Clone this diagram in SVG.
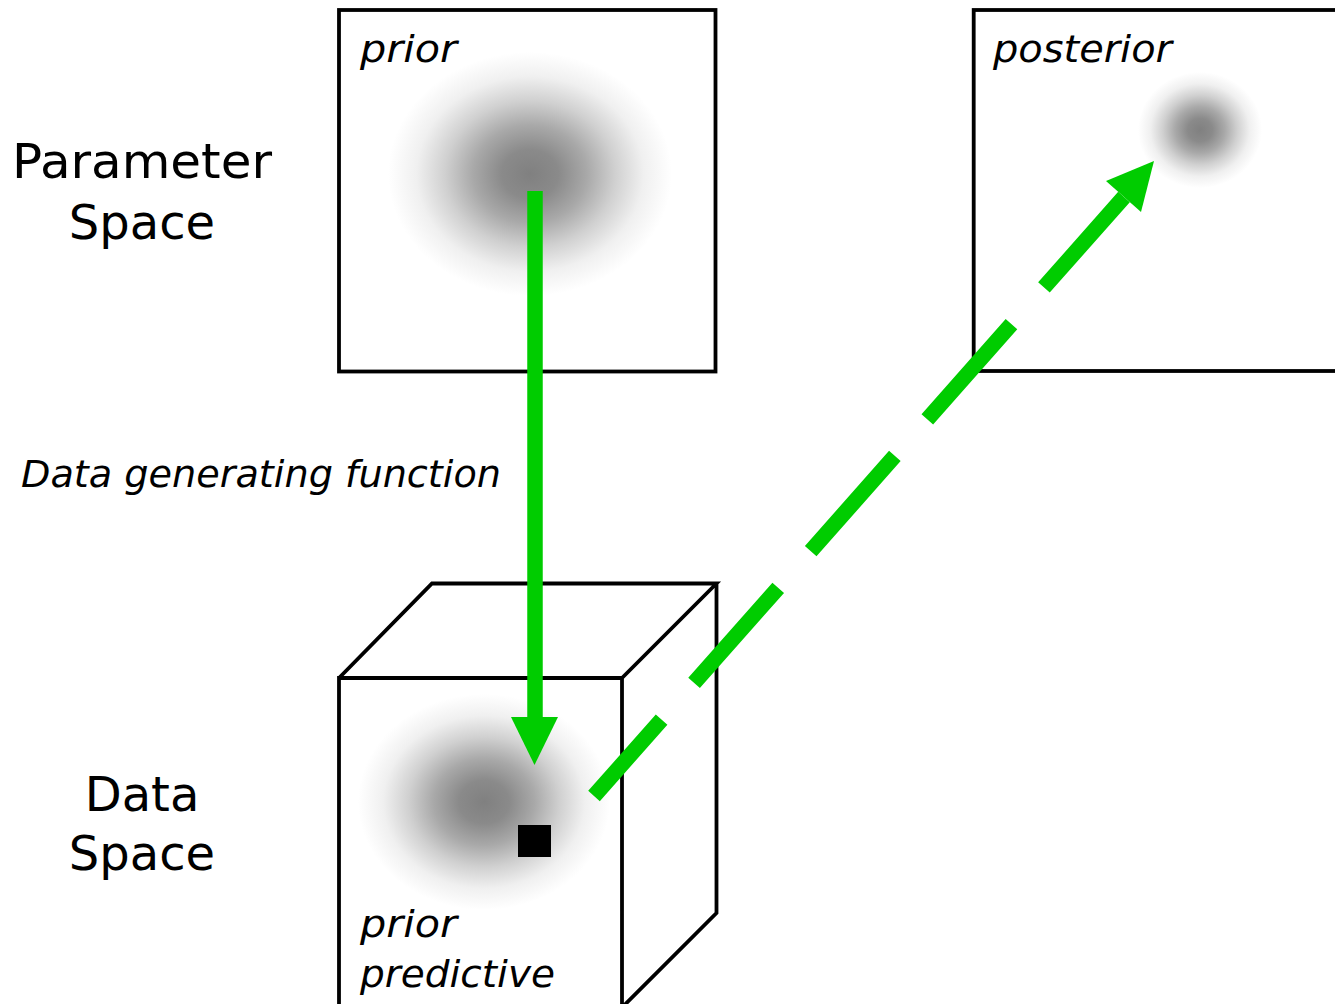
<svg xmlns="http://www.w3.org/2000/svg" width="1335" height="1004" viewBox="0 0 1335 1004">
<style>
.box{fill:none;stroke:#000;stroke-width:3.8;stroke-linejoin:miter}
.head{font-family:"DejaVu Sans",sans-serif;font-size:48px;fill:#000;text-anchor:middle}
.lbl{font-family:"DejaVu Sans",sans-serif;font-style:italic;font-size:38px;fill:#000}
.arr{stroke:#00cc00;stroke-width:15.5;fill:none;stroke-linecap:butt}
.ah{fill:#00cc00}
</style>
<defs>
<radialGradient id="blob" cx="0.5" cy="0.5" r="0.5">
<stop offset="0" stop-color="#808080" stop-opacity="1"/>
<stop offset="0.2" stop-color="#808080" stop-opacity="0.92"/>
<stop offset="0.4" stop-color="#808080" stop-opacity="0.68"/>
<stop offset="0.6" stop-color="#808080" stop-opacity="0.37"/>
<stop offset="0.8" stop-color="#808080" stop-opacity="0.12"/>
<stop offset="1" stop-color="#808080" stop-opacity="0"/>
</radialGradient>
</defs>
<rect width="1335" height="1004" fill="#fff"/>
<g id="labels">
<text class="head" x="142" y="178" textLength="260" lengthAdjust="spacingAndGlyphs">Parameter</text>
<text class="head" x="142" y="239">Space</text>
<text class="head" x="142" y="811">Data</text>
<text class="head" x="142" y="870">Space</text>
<text class="lbl" x="21" y="487" textLength="480" lengthAdjust="spacingAndGlyphs">Data generating function</text>
</g>
<g id="prior">
<ellipse cx="530" cy="174" rx="142" ry="122" fill="url(#blob)"/>
<rect class="box" x="339" y="10" width="376.5" height="361.5"/>
<text class="lbl" x="360" y="62" textLength="97" lengthAdjust="spacingAndGlyphs">prior</text>
</g>
<g id="posterior">
<ellipse cx="1200" cy="130" rx="62" ry="58" fill="url(#blob)"/>
<rect class="box" x="973.7" y="10" width="380" height="361"/>
<text class="lbl" x="993" y="62" textLength="179" lengthAdjust="spacingAndGlyphs">posterior</text>
</g>
<g id="data-space">
<ellipse cx="484" cy="802" rx="126" ry="108" fill="url(#blob)"/>
<path class="box" d="M339,1010 V678 H622 V1010 M339,678 L432,583.5 H716.5 L622,678 M716.5,583.5 V913 L622,1007.5"/>
<rect x="518" y="825" width="33" height="32" fill="#000"/>
<text class="lbl" x="360" y="937" textLength="97" lengthAdjust="spacingAndGlyphs">prior</text>
<text class="lbl" x="360" y="987" textLength="195" lengthAdjust="spacingAndGlyphs">predictive</text>
</g>
<g id="connectors">
<line class="arr" x1="535" y1="191" x2="535" y2="718"/>
<polygon class="ah" points="511,717 558,717 534.5,765"/>
<line class="arr" x1="594" y1="796" x2="1124" y2="197" stroke-dasharray="127 49" stroke-dashoffset="25"/>
<polygon class="ah" points="1154,161 1106,181 1141,212"/>
</g>
</svg>
